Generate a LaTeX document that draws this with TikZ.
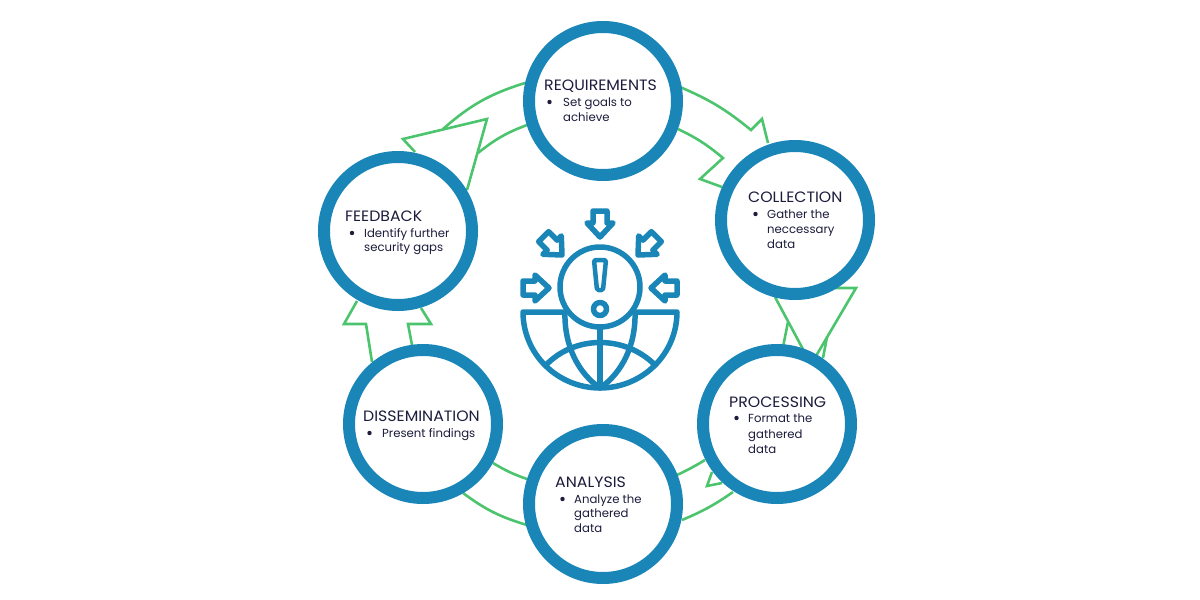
\documentclass[tikz,border=0pt]{standalone}
\usepackage{fontspec}
\setmainfont{Poppins}
\newfontface\headface[FakeStretch=1.05]{Poppins}
\definecolor{ringblue}{HTML}{1A86B8}
\definecolor{arrowgreen}{HTML}{4CC46E}
\definecolor{inktext}{HTML}{1C1C3C}
\newcommand{\titlesize}{\headface\fontsize{15}{17}\selectfont}
\newcommand{\bodysize}{\fontsize{11.7}{13}\selectfont}
\newcommand{\incoming}[3]{\draw[iconline,shift={(#1,#2)},rotate=#3] (0,0) -- (-13,-14) -- (-7,-14) -- (-7,-26) -- (7,-26) -- (7,-14) -- (13,-14) -- cycle;}
\tikzset{
  ring/.style={circle,draw=ringblue,line width=12pt,fill=white,minimum size=148pt,inner sep=0pt},
  flow/.style={draw=arrowgreen,line width=2.6pt,line join=miter},
  iconline/.style={draw=ringblue,line width=5.5pt,line join=round,line cap=round},
  title/.style={anchor=base west,text=inktext,inner sep=0pt,font=\titlesize},
  body/.style={anchor=base west,text=inktext,inner sep=0pt,font=\bodysize},
  dot/.style={circle,fill=inktext,minimum size=4.4pt,inner sep=0pt}
}
\begin{document}
\begin{tikzpicture}[x=1pt,y=-1pt]
\useasboundingbox (0,0) rectangle (1200,600);
% green hollow arrows
\draw[flow] (680,87) to[bend left=8] (751,130) -- (762,119) -- (768,143);
\draw[flow] (678,129) to[bend left=7] (723,158) -- (700,179) -- (722,187);
\draw[flow] (775,297) -- (805,353);
\draw[flow] (835,288) -- (856,288) -- (816,356);
\draw[flow] (788,322) -- (783,347);
\draw[flow] (827,337) -- (823,358);
\draw[flow] (733,492) to[bend left=6] (682,520);
\draw[flow] (705,460) to[bend left=3] (677,475);
\draw[flow] (712,472) -- (707,486) -- (722,483);
\draw[flow] (493,463) to[bend right=6] (527,479);
\draw[flow] (463,493) to[bend right=10] (527,525);
\draw[flow] (372,362) -- (366,324) -- (344,324) -- (357,301);
\draw[flow] (412,345) -- (408,324) -- (431,324) -- (421,308);
\draw[flow] (525,83) to[bend right=12] (443,129);
\draw[flow] (415,152) -- (403,139) -- (487,119) -- (467,190);
\draw[flow] (527,125) to[bend right=9] (478,153);
% rings
\node[ring] (req) at (603,101) {};
\node[ring] (col) at (795,220) {};
\node[ring] (pro) at (777,424) {};
\node[ring] (ana) at (603,504) {};
\node[ring] (dis) at (423,424) {};
\node[ring] (fee) at (398,231) {};
% texts
\node[title] (t1) at (544,90) {REQUIREMENTS};
\node[dot] (d1) at (549.5,102) {};
\node[body] (b1a) at (563,106) {Set goals to};
\node[body] (b1b) at (563,121) {achieve};
\node[title] (t2) at (748,202) {COLLECTION};
\node[dot] (d2) at (755.5,214) {};
\node[body] (b2a) at (767,218) {Gather the};
\node[body] (b2b) at (767,233) {neccessary};
\node[body] (b2c) at (767,248) {data};
\node[title] (t3) at (729,407) {PROCESSING};
\node[dot] (d3) at (736.5,418) {};
\node[body] (b3a) at (748,422) {Format the};
\node[body] (b3b) at (748,438) {gathered};
\node[body] (b3c) at (748,453) {data};
\node[title] (t4) at (555,487) {ANALYSIS};
\node[dot] (d4) at (562.5,499) {};
\node[body] (b4a) at (574,503) {Analyze the};
\node[body] (b4b) at (574,517) {gathered};
\node[body] (b4c) at (574,532) {data};
\node[title] (t5) at (363,421) {DISSEMINATION};
\node[dot] (d5) at (369.5,433) {};
\node[body] (b5a) at (382,437) {Present findings};
\node[title] (t6) at (345,221) {FEEDBACK};
\node[dot] (d6) at (352,233) {};
\node[body] (b6a) at (364,237) {Identify further};
\node[body] (b6b) at (364,251) {security gaps};
% central icon
\draw[iconline] (563,312) -- (523,312) arc[start angle=180,end angle=0,x radius=77,y radius=76] -- (637,312);
\draw[iconline] (600,325) -- (600,388);
\draw[iconline] (565,312) .. controls (564,345) and (578,373) .. (600,388) .. controls (622,373) and (636,345) .. (635,312);
\draw[iconline] (546,365) .. controls (575,335) and (625,335) .. (655,365);
\draw[iconline,fill=white] (600,287) circle[radius=40];
\draw[iconline,rounded corners=1.5pt,line width=4.5pt] (594,260) -- (606,260) -- (603,290) -- (597,290) -- cycle;
\draw[iconline] (600,309) circle[radius=6.5];
\incoming{600}{237}{0}
\incoming{562}{255}{45}
\incoming{638}{255}{-45}
\incoming{549}{288}{90}
\incoming{651}{288}{-90}
\end{tikzpicture}
\end{document}
